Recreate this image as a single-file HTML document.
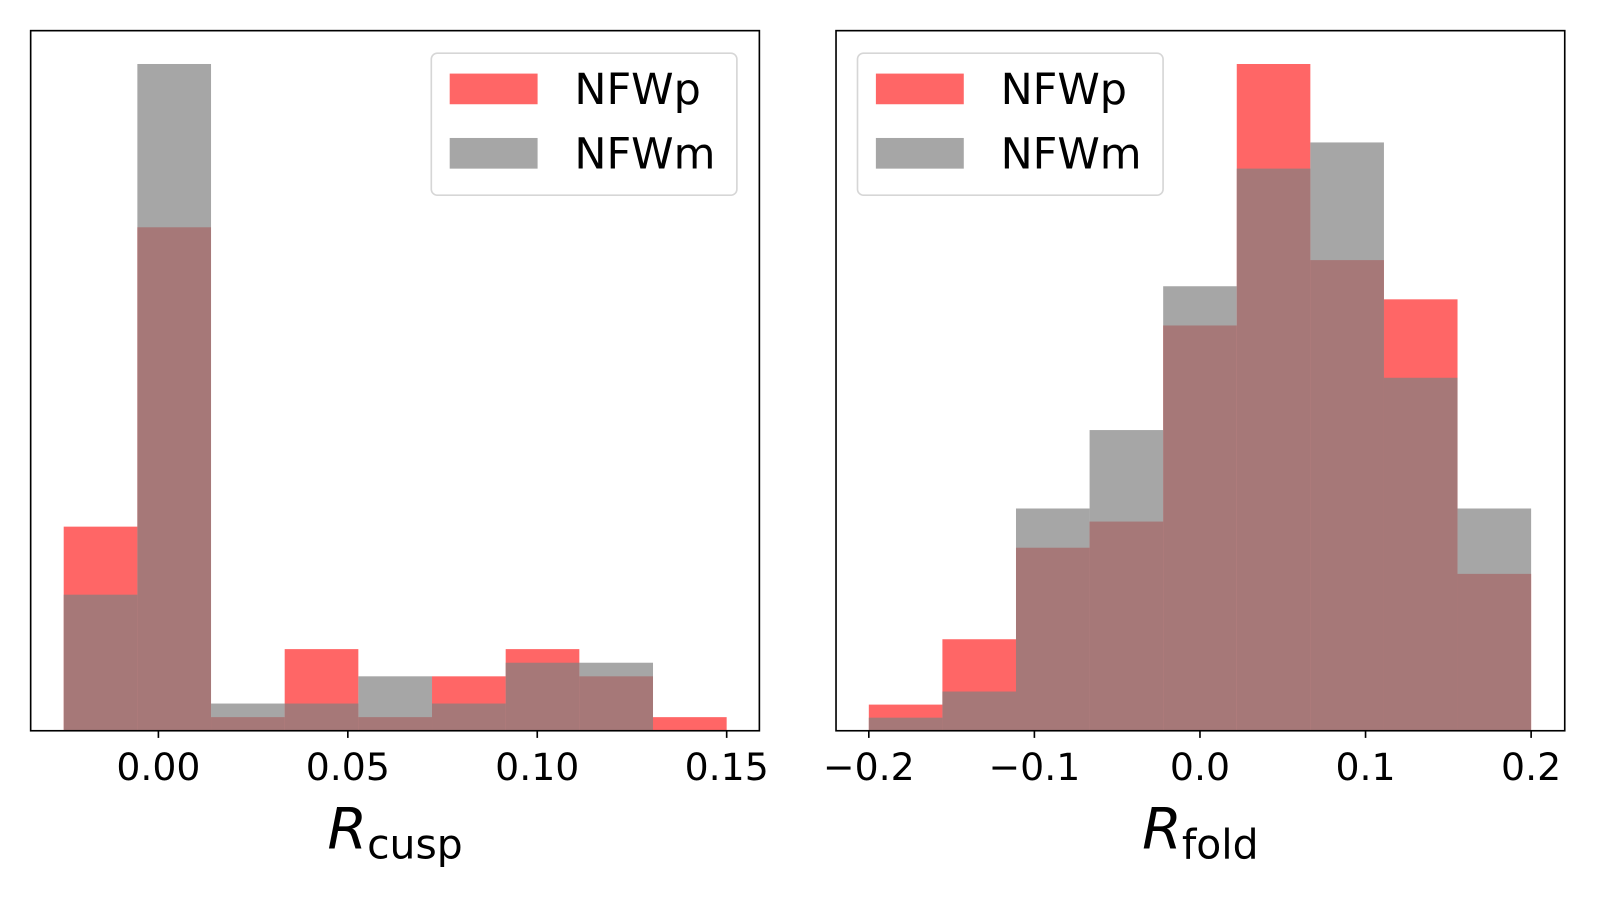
<!DOCTYPE html>
<html><head><meta charset="utf-8"><style>
html,body{margin:0;padding:0;background:#fff;}
svg{display:block;font-family:"DejaVu Sans","Liberation Sans",sans-serif;}
</style></head><body>
<svg id="chart" width="1600" height="900" viewBox="0 0 1565.5 880.6" preserveAspectRatio="none" xmlns="http://www.w3.org/2000/svg"></svg>
<script>
// Left panel (R_cusp)
const cuspEdges0 = -0.0250, cuspBinW = 0.019444;
const cuspNFWp = [15, 37, 1, 6, 1, 4, 6, 4, 1];
const cuspNFWm = [10, 49, 2, 2, 4, 2, 5, 5, 0];
const cuspTicks = [0.00, 0.05, 0.10, 0.15];
const cuspTickLabels = ["0.00", "0.05", "0.10", "0.15"];
// Right panel (R_fold)
const foldEdges0 = -0.2, foldBinW = 0.044444;
const foldNFWp = [2, 7, 14, 16, 31, 51, 36, 33, 12];
const foldNFWm = [1, 3, 17, 23, 34, 43, 45, 27, 17];
const foldTicks = [-0.2, -0.1, 0.0, 0.1, 0.2];
const foldTickLabels = ["\u22120.2", "\u22120.1", "0.0", "0.1", "0.2"];
const seriesNames = ["NFWp", "NFWm"];

const NS = "http://www.w3.org/2000/svg";
const svg = document.getElementById('chart');
function mk(tag, attrs, parent) {
  const e = document.createElementNS(NS, tag);
  for (const k in attrs) e.setAttribute(k, attrs[k]);
  (parent || svg).appendChild(e);
  return e;
}

function panel(opts) {
  const {L, R, T, B, x0, x1, e0, bw, red, gray, ticks, labels, sub, name} = opts;
  const g = mk('g', {});
  
  
  const ymax = Math.max(...red, ...gray) * 1.05;
  const X = v => L + (v - x0) / (x1 - x0) * (R - L);
  const Y = v => B - v / ymax * (B - T);
  red.forEach((v, i) => {
    if (v <= 0) return;
    const r = mk('rect', {x: X(e0 + i * bw), y: Y(v), width: X(e0 + (i + 1) * bw) - X(e0 + i * bw), height: B - Y(v), fill: 'rgb(255,0,0)', 'fill-opacity': 0.6}, g);
    
    
  });
  gray.forEach((v, i) => {
    if (v <= 0) return;
    const r = mk('rect', {x: X(e0 + i * bw), y: Y(v), width: X(e0 + (i + 1) * bw) - X(e0 + i * bw), height: B - Y(v), fill: 'rgb(128,128,128)', 'fill-opacity': 0.7}, g);
    
    
  });
  const frame = mk('rect', {x: L, y: T, width: R - L, height: B - T, fill: 'none', stroke: '#000', 'stroke-width': 1.6}, g);
  
  
  ticks.forEach((t, i) => {
    const x = X(t);
    const tk = mk('line', {x1: x, x2: x, y1: B, y2: B + 7, stroke: '#000', 'stroke-width': 1.6}, g);
    
    
    const tl = mk('text', {x: x, y: B + 48, 'font-size': 37, 'text-anchor': 'middle', fill: '#000'}, g);
    tl.textContent = labels[i];
    
    
  });
  const xl = mk('text', {x: (L + R) / 2, y: B + 115, 'font-size': 56, 'text-anchor': 'middle', fill: '#000'}, g);
  
  
  const ts1 = mk('tspan', {'font-style': 'italic'}, xl); ts1.textContent = 'R';
  const ts2 = mk('tspan', {'font-size': 40, dy: 10}, xl); ts2.textContent = sub;
  const lg = mk('g', {}, g);
  
  
  mk('rect', {x: opts.legX, y: 52, width: 299, height: 139, rx: 6, fill: '#fff', 'fill-opacity': 0.8, stroke: '#d6d6d6', 'stroke-width': 1.6}, lg);
  const cols = ['rgba(255,0,0,0.6)', 'rgba(128,128,128,0.7)'];
  seriesNames.forEach((s, i) => {
    const p = mk('rect', {x: opts.legX + 18, y: 72 + i * 63, width: 86, height: 30, fill: cols[i]}, lg);
    
    
    const t = mk('text', {x: opts.legX + 140, y: 102 + i * 63, 'font-size': 42, fill: '#000'}, lg);
    t.textContent = s;
    
    
  });
}

panel({L: 30, R: 743, T: 30, B: 715, x0: -0.03372, x1: 0.15863, e0: cuspEdges0, bw: cuspBinW,
  red: cuspNFWp, gray: cuspNFWm, ticks: cuspTicks, labels: cuspTickLabels, sub: 'cusp', name: 'cusp-panel', legX: 422});
panel({L: 818, R: 1531, T: 30, B: 715, x0: -0.2198, x1: 0.2203, e0: foldEdges0, bw: foldBinW,
  red: foldNFWp, gray: foldNFWm, ticks: foldTicks, labels: foldTickLabels, sub: 'fold', name: 'fold-panel', legX: 839});
</script>
</body></html>
